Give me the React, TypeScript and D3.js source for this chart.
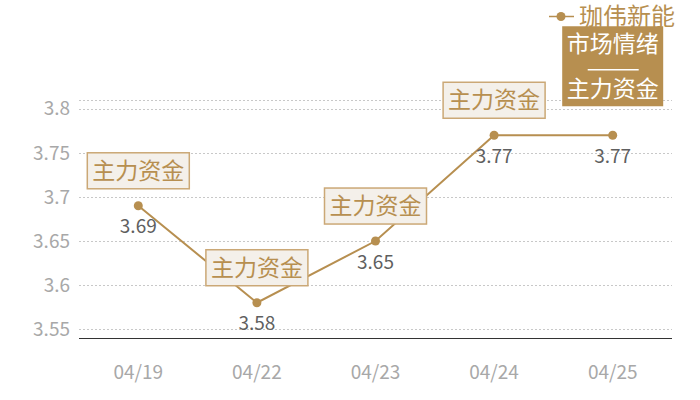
import { useEffect, useRef } from 'react'
import * as d3 from 'd3'

const dates = ['04/19', '04/22', '04/23', '04/24', '04/25']
const prices = [3.69, 3.58, 3.65, 3.77, 3.77]
const notes = ['主力资金', '主力资金', '主力资金', '主力资金', '市场情绪\n——\n主力资金']
const highlighted = [false, false, false, false, true]
const yTicks = [3.55, 3.6, 3.65, 3.7, 3.75, 3.8]
const seriesName = '珈伟新能'

const W = 700
const H = 400
const GOLD = '#b78f50'
const FONT = '"Noto Sans CJK SC", "Noto Sans", sans-serif'

export default function App() {
  const svgRef = useRef<SVGSVGElement>(null)

  useEffect(() => {
    if (!svgRef.current) return
    const svg = d3.select(svgRef.current)
    svg.selectAll('*').remove()

    const left = 79
    const right = 672
    const top = 100
    const bottom = 338

    const x = d3.scaleBand<string>().domain(dates).range([left, right])
    const cx = (d: string) => (x(d) ?? 0) + x.bandwidth() / 2
    const y = d3.scaleLinear().domain([3.54, 3.81]).range([bottom, top])

    // grid
    svg
      .append('g')
      .selectAll('line')
      .data([...yTicks, 3.81])
      .join('line')
      .attr('x1', left)
      .attr('x2', right)
      .attr('y1', (d) => Math.round(y(d)) + 0.5)
      .attr('y2', (d) => Math.round(y(d)) + 0.5)
      .attr('stroke', '#c8c8c8')
      .attr('stroke-dasharray', '2 2')

    svg
      .append('line')
      .attr('x1', left)
      .attr('x2', right)
      .attr('y1', bottom + 0.5)
      .attr('y2', bottom + 0.5)
      .attr('stroke', '#333')
      .attr('stroke-width', 1.2)

    // y labels
    svg
      .append('g')
      .selectAll('text')
      .data(yTicks)
      .join('text')
      .attr('x', 70)
      .attr('y', (d) => y(d))
      .attr('dy', '0.35em')
      .attr('text-anchor', 'end')
      .attr('fill', '#a8a8a8')
      .attr('font-size', 19)
      .attr('font-family', FONT)
      .text((d) => String(d))

    // x labels
    svg
      .append('g')
      .selectAll('text')
      .data(dates)
      .join('text')
      .attr('x', cx)
      .attr('y', 372)
      .attr('dy', '0.35em')
      .attr('text-anchor', 'middle')
      .attr('fill', '#a8a8a8')
      .attr('font-size', 19)
      .attr('font-family', FONT)
      .text((d) => d)

    // line
    const pts = dates.map((d, i) => [cx(d), y(prices[i])] as [number, number])
    svg
      .append('path')
      .attr('d', d3.line()(pts))
      .attr('fill', 'none')
      .attr('stroke', GOLD)
      .attr('stroke-width', 2)

    svg
      .append('g')
      .selectAll('circle')
      .data(pts)
      .join('circle')
      .attr('cx', (d) => d[0])
      .attr('cy', (d) => d[1])
      .attr('r', 4.5)
      .attr('fill', GOLD)

    // value labels
    svg
      .append('g')
      .selectAll('text')
      .data(pts)
      .join('text')
      .attr('x', (d) => d[0])
      .attr('y', (d) => d[1] + 21)
      .attr('dy', '0.35em')
      .attr('text-anchor', 'middle')
      .attr('fill', '#5f5f5f')
      .attr('font-size', 19)
      .attr('font-family', FONT)
      .text((_, i) => prices[i].toFixed(2))

    // annotation boxes
    pts.forEach(([px, py], i) => {
      const g = svg.append('g')
      if (highlighted[i]) {
        const bw = 101
        const bh = 80
        const bx = px - bw / 2
        const by = py - 29 - bh
        g.append('rect')
          .attr('x', bx)
          .attr('y', by)
          .attr('width', bw)
          .attr('height', bh)
          .attr('fill', GOLD)
        const lines = notes[i].split('\n')
        const rows = [by + 18, by + 43, by + 63]
        lines.forEach((t, j) => {
          if (t.startsWith('—')) {
            g.append('line')
              .attr('x1', px - 25)
              .attr('x2', px + 26)
              .attr('y1', rows[j] + 0.5)
              .attr('y2', rows[j] + 0.5)
              .attr('stroke', '#fff')
              .attr('stroke-width', 1.3)
          } else {
            g.append('text')
              .attr('x', px)
              .attr('y', rows[j])
              .attr('dy', '0.35em')
              .attr('text-anchor', 'middle')
              .attr('fill', '#fff')
              .attr('font-size', 23)
              .attr('font-family', FONT)
              .text(t)
          }
        })
      } else {
        const bw = 102
        const bh = 36
        const bx = px - bw / 2
        const by = py - 17 - bh
        g.append('rect')
          .attr('x', bx)
          .attr('y', by)
          .attr('width', bw)
          .attr('height', bh)
          .attr('fill', '#f4f0ea')
          .attr('stroke', '#cba876')
          .attr('stroke-width', 1.5)
        g.append('text')
          .attr('x', px)
          .attr('y', by + bh / 2)
          .attr('dy', '0.35em')
          .attr('text-anchor', 'middle')
          .attr('fill', GOLD)
          .attr('font-size', 23)
          .attr('font-family', FONT)
          .text(notes[i])
      }
    })

    // legend
    const lg = svg.append('g')
    lg.append('line')
      .attr('x1', 549)
      .attr('x2', 574)
      .attr('y1', 16.5)
      .attr('y2', 16.5)
      .attr('stroke', GOLD)
      .attr('stroke-width', 1.5)
    lg.append('circle').attr('cx', 561).attr('cy', 16.5).attr('r', 4.5).attr('fill', GOLD)
    lg.append('text')
      .attr('x', 579)
      .attr('y', 17)
      .attr('dy', '0.35em')
      .attr('fill', GOLD)
      .attr('font-size', 24)
      .attr('font-family', FONT)
      .text(seriesName)
  }, [])

  return (
    <svg
      ref={svgRef}
      width={W}
      height={H}
      style={{ position: 'absolute', left: 0, top: 0, background: '#fff', display: 'block' }}
    />
  )
}
